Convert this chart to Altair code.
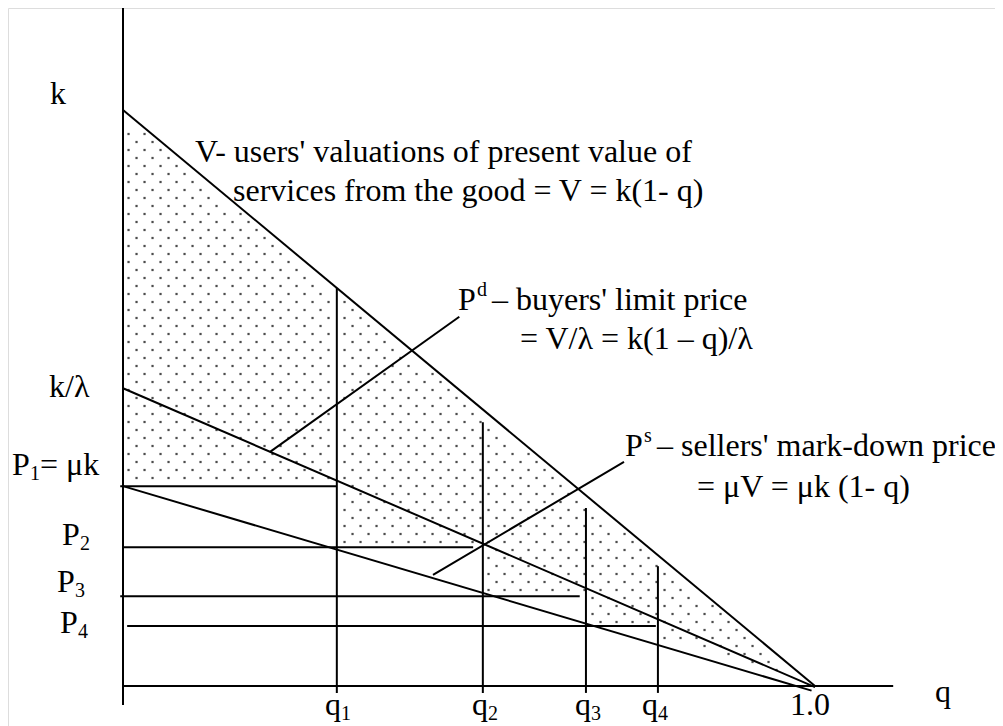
import altair as alt
import pandas as pd
import numpy as np

# ---- values (k = 1) ----
q_marks = [0.309, 0.520, 0.669, 0.773]          # q1..q4
p_levels = [0.347, 0.241, 0.156, 0.104]          # P1..P4
v_top = 1.0                                      # k
pd_top = 0.517                                   # k / lambda
ps_top = 0.347                                   # mu k
q_end = 1.0
vert_tops = [0.691, 0.458, 0.309, 0.208]         # tops of q1..q4 lines
horiz_start = [-0.004, 0.0, -0.004, 0.006]
horiz_end = [0.309, 0.506, 0.660, 0.770]

# leader lines (q, v)
pd_leader = [(0.212, 0.406), (0.486, 0.641)]
ps_leader = [(0.448, 0.193), (0.724, 0.389)]

# label texts with anchor (q, v) and font size
labels = [
    ("k", -0.1055, 1.0104, 32),
    ("k/λ", -0.1069, 0.5017, 32),
    ("P", -0.1604, 0.3663, 32), ("1", -0.1344, 0.3576, 20), ("= μk", -0.1199, 0.3663, 32),
    ("P", -0.0882, 0.2448, 32), ("2", -0.0621, 0.2361, 20),
    ("P", -0.0954, 0.1632, 32), ("3", -0.0694, 0.1545, 20),
    ("P", -0.0910, 0.0920, 32), ("4", -0.0650, 0.0833, 20),
    ("q", 0.2919, -0.0503, 32), ("1", 0.3150, -0.0590, 20),
    ("q", 0.5043, -0.0503, 32), ("2", 0.5275, -0.0590, 20),
    ("q", 0.6532, -0.0503, 32), ("3", 0.6763, -0.0590, 20),
    ("q", 0.7500, -0.0503, 32), ("4", 0.7731, -0.0590, 20),
    ("1.0", 0.9639, -0.0503, 32),
    ("q", 1.1734, -0.0278, 32),
    ("V- users' valuations of present value of", 0.1040, 0.9097, 32),
    ("services from the good = V = k(1- q)", 0.1590, 0.8420, 32),
    ("P", 0.4841, 0.6528, 32), ("d", 0.5116, 0.6771, 20),
    ("– buyers' limit price", 0.5332, 0.6528, 32),
    ("= V/λ = k(1 – q)/λ", 0.5737, 0.5851, 32),
    ("P", 0.7254, 0.3993, 32), ("s", 0.7529, 0.4236, 20),
    ("– sellers' mark-down price", 0.7717, 0.3993, 32),
    ("= μV = μk (1- q)", 0.8295, 0.3281, 32),
]

# ---- layout ----
W, H = 987, 718
PX_Q0, PX_PER_Q = 123, 692
PY_V0, PX_PER_V = 686, 576
xdom = [(8 - PX_Q0) / PX_PER_Q, (8 + W - PX_Q0) / PX_PER_Q]
ydom = [(PY_V0 - 8 - H) / PX_PER_V, (PY_V0 - 8) / PX_PER_V]
xs = alt.Scale(domain=xdom, nice=False, zero=False)
ys = alt.Scale(domain=ydom, nice=False, zero=False)

# ---- segments ----
segs = []
segs.append((0, 0, -0.033, 1.177))         # y axis
segs.append((0, 1.113, 0, 0))              # x axis
segs.append((0, q_end, v_top, 0))          # V
segs.append((0, q_end, pd_top, -0.002))    # Pd
segs.append((0, 0.995, ps_top, -0.008))    # Ps
for qm, top in zip(q_marks, vert_tops):
    segs.append((qm, qm, -0.012, top))
for p, a, b in zip(p_levels, horiz_start, horiz_end):
    segs.append((a, b, p, p))
for ld in (pd_leader, ps_leader):
    segs.append((ld[0][0], ld[1][0], ld[0][1], ld[1][1]))
seg_df = pd.DataFrame(segs, columns=["x", "x2", "y", "y2"])

# ---- stipple texture inside the shaded region ----
def lower_bound(q):
    if q < q_marks[0]:
        return p_levels[0]
    for i in range(3):
        if q < q_marks[i + 1]:
            return p_levels[i + 1]
    return ps_top * (1 - q)

dx, dy = 16 / PX_PER_Q, 8 / PX_PER_V
m = 4 / PX_PER_V
pts = []
row = 0
v = dy
while v < 1.0:
    off = (dx / 2) if row % 2 else 0
    q = 0.008 + off
    while q < 1.0:
        if v < (1 - q) - m * 1.3 and v > lower_bound(q) + m and abs(q - q_marks[0]) > 0.004:
            pts.append((q, v))
        q += dx
    v += dy
    row += 1
dot_df = pd.DataFrame(pts, columns=["x", "y"])

lab_df = pd.DataFrame(labels, columns=["t", "x", "y", "fs"])

dots = alt.Chart(dot_df).mark_square(size=5, color="#000").encode(
    x=alt.X("x:Q", scale=xs, axis=None), y=alt.Y("y:Q", scale=ys, axis=None))
lines = alt.Chart(seg_df).mark_rule(color="black", strokeWidth=2).encode(
    x=alt.X("x:Q", scale=xs, axis=None), x2="x2:Q",
    y=alt.Y("y:Q", scale=ys, axis=None), y2="y2:Q")
texts = alt.Chart(lab_df).mark_text(align="left", baseline="alphabetic",
                                    font="Liberation Serif", color="black").encode(
    x=alt.X("x:Q", scale=xs, axis=None), y=alt.Y("y:Q", scale=ys, axis=None),
    text="t:N", size=alt.Size("fs:Q", scale=None, legend=None))

chart = alt.layer(dots, lines, texts).properties(
    width=W, height=H, autosize=alt.AutoSizeParams(type="none"), padding=0
).configure_view(stroke=None).configure(background="white")

chart.save("out.html", embed_options={"renderer": "svg", "actions": False})
